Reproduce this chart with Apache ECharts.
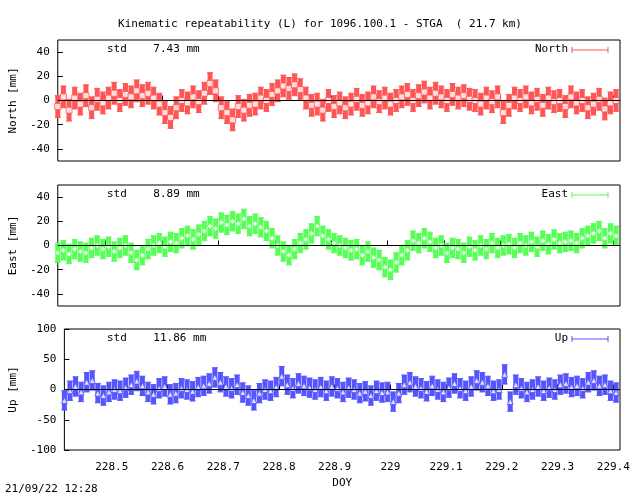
<!DOCTYPE html>
<html><head><meta charset="utf-8">
<script src="https://cdn.jsdelivr.net/npm/echarts@6/dist/echarts.min.js"></script>
<style>html,body{margin:0;background:#fff}#main{width:640px;height:496px}</style>
</head><body><div id="main"></div>
<script>
// time axis: 100 epochs, DOY
var doyStart = 228.415, doyStep = 0.01;
var northVals = [-5,3,-8,2,-3, 4,-6,1,-2, 2,6,0,5,3,8,4, 6,2,-3,-10, -14,-6,0, -2,3,-1,6, 14,8,-6,
  -10,-16,-5,-8,-4, -3,2,0,5,8,12,10, 13,9,2,-4, -3,-8,0,-5,-2,-6,-3, 1,-4,-2,3,-1,2,-3,0,
  3,5,0,4,7,2,6,3,0,5,2,4,1, 0,-3,2,-1,3, -10,-4,2, 0,3,-2,1,-4,2,-1,0,-5,3,-2,0,-6,-3,1,-7,-2,0];
var eastVals = [-6,-4,-7,-3,-5,-6,-2,0,-3,-1,-5,-2, 0,-6,-12,-8,-3,0,2,-1, 3,2,6,8,5,9,
  12,16,14,19,17,20,18,22,16,18,15,12, 6,0,-5,-8,-3,2, 5,10,16,8,5, 2,0,-2,-4,-3,-8,-5,
  -10,-12,-18,-20,-14,-8,-4, 4,2,6,3,-2,0,-6,-2, -3,-6,-1,-4,0,-3,2,-2,0,1,
  -2,2,0,3,-1,4,1,5,2,3,4,2,6,8,10,12,6,10,8];
var upVals = [-18,-2,5,-4,12, 15,-6,-10,-4,0, -2,3,8,14,6, -4,-8,2,5,-8, -6,2,0,-3,4,6,10,
  20,12,5,2,8, -5,-10,-18,-6,0,-2, 4,22,8,2,10,6,3, 0,4,-2,5,2,-4,3,0, -6,-3,-10,-2,-5,-4,
  -20,-6,8,12,5, 2,-3,6,0,-4,3,10, 2,-2,5,15,12,6,-2,0, 25,-20,8,
  2,-4,0,5,-2,3,0,8,10,4,6,2,12,15,6,8,-2,-5];
var northErr = 9, eastErr = 8, upErr = 16;
var xTicks = [228.5,228.6,228.7,228.8,228.9,229,229.1,229.2,229.3,229.4];

var panels = [
  {name:'North', label:'North [mm]', vals:northVals, err:northErr, color:'#ff5555', sym:'rect', min:-50, max:50, ticks:[-40,-20,0,20,40], std:'7.43', top:40},
  {name:'East', label:'East [mm]', vals:eastVals, err:eastErr, color:'#55ff55', sym:'diamond', min:-50, max:50, ticks:[-40,-20,0,20,40], std:'8.89', top:185},
  {name:'Up', label:'Up [mm]', vals:upVals, err:upErr, color:'#5555ff', sym:'triangle', min:-100, max:100, ticks:[-100,-50,0,50,100], std:'11.86', top:329}
];
var font = 'DejaVu Sans Mono';
var grid = [], xAxis = [], yAxis = [], series = [], graphic = [];
panels.forEach(function(p, k){
  grid.push({left:56, right:20, top:p.top, height:121, show:true, borderColor:'#000', borderWidth:1});
  xAxis.push({type:'value', gridIndex:k, min:228.415, max:229.412,
    axisLine:{show:false}, splitLine:{show:false},
    axisTick:{inside:true, length:5, lineStyle:{color:'#000'}, customValues:xTicks},
    axisLabel:{show:k===2, customValues:xTicks, fontFamily:font, fontSize:11, color:'#000', margin:12,
      formatter:function(v){return String(Math.round(v*10)/10);}},
    name:k===2?'DOY':'', nameLocation:'middle', nameGap:28, nameTextStyle:{fontFamily:font, fontSize:11, color:'#000'}});
  yAxis.push({type:'value', gridIndex:k, min:p.min, max:p.max,
    axisLine:{show:false}, splitLine:{show:false},
    axisTick:{inside:true, length:5, lineStyle:{color:'#000'}, customValues:p.ticks},
    axisLabel:{customValues:p.ticks, fontFamily:font, fontSize:11, color:'#000', margin:8},
    name:p.label, nameLocation:'middle', nameGap:38, nameTextStyle:{fontFamily:font, fontSize:11, color:'#000'}});
  var data = p.vals.map(function(v,i){return [doyStart+i*doyStep, v, p.err];});
  series.push({type:'custom', xAxisIndex:k, yAxisIndex:k, data:data, silent:true,
    renderItem:function(params, api){
      var x = api.value(0), y = api.value(1), e = api.value(2);
      var a = api.coord([x, y-e]), b = api.coord([x, y+e]);
      return {type:'group', children:[
        {type:'line', shape:{x1:a[0],y1:a[1],x2:b[0],y2:b[1]}, style:{stroke:p.color, lineWidth:5}},
        {type:'line', shape:{x1:a[0]-3,y1:a[1],x2:a[0]+3,y2:a[1]}, style:{stroke:p.color, lineWidth:1}},
        {type:'line', shape:{x1:b[0]-3,y1:b[1],x2:b[0]+3,y2:b[1]}, style:{stroke:p.color, lineWidth:1}}
      ]};
    },
    markLine:{silent:true, symbol:'none', label:{show:false}, lineStyle:{color:'#000', width:1, type:'solid'}, data:[{yAxis:0}]}
  });
  series.push({type:'scatter', xAxisIndex:k, yAxisIndex:k, data:data, symbol:p.sym, symbolSize:6,
    itemStyle:{color:'#fff', borderColor:p.color, borderWidth:1}, silent:true});
  graphic.push({type:'text', left:107, top:p.top+4, style:{text:'std    '+p.std+' mm', font:'11px '+font, fill:'#000'}});
  graphic.push({type:'text', right:72, top:p.top+4, style:{text:p.name, font:'11px '+font, fill:'#000', align:'right'}});
  graphic.push({type:'line', shape:{x1:572,y1:p.top+10,x2:608,y2:p.top+10}, style:{stroke:p.color, lineWidth:1}});
  graphic.push({type:'line', shape:{x1:572,y1:p.top+7,x2:572,y2:p.top+13}, style:{stroke:p.color, lineWidth:1}});
  graphic.push({type:'line', shape:{x1:608,y1:p.top+7,x2:608,y2:p.top+13}, style:{stroke:p.color, lineWidth:1}});
});
graphic.push({type:'text', left:5, top:484, style:{text:'21/09/22 12:28', font:'11px '+font, fill:'#000'}});

var chart = echarts.init(document.getElementById('main'));
chart.setOption({
  animation:false,
  title:{text:'Kinematic repeatability (L) for 1096.100.1 - STGA  ( 21.7 km)', left:'center', top:14,
    textStyle:{fontFamily:font, fontSize:11, fontWeight:'normal', color:'#000'}},
  grid:grid, xAxis:xAxis, yAxis:yAxis, series:series, graphic:graphic
});
</script></body></html>
